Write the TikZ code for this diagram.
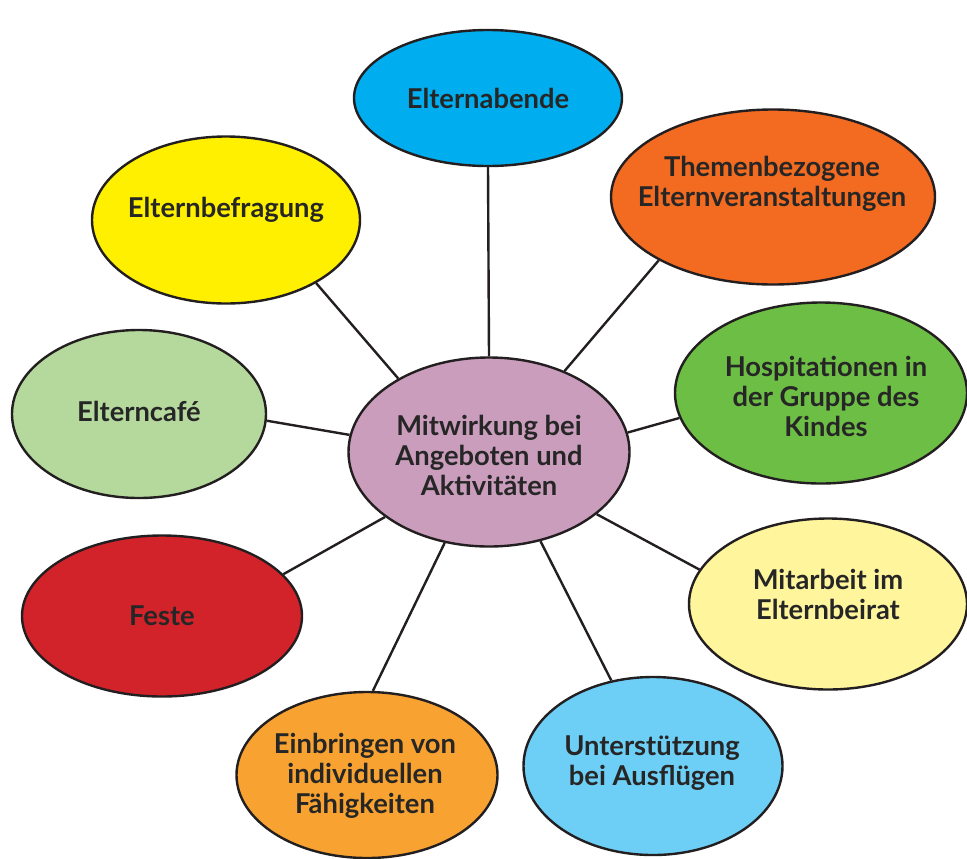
\documentclass[tikz,border=0pt]{standalone}
\usepackage{fontspec}
\setmainfont{Lato}
\usetikzlibrary{shapes.geometric}

\definecolor{abendeC}{HTML}{00AEEF}
\definecolor{themenC}{HTML}{F26B21}
\definecolor{befragC}{HTML}{FFF000}
\definecolor{hospC}{HTML}{6DBE45}
\definecolor{cafeC}{HTML}{B5D99C}
\definecolor{midC}{HTML}{CA9DBD}
\definecolor{festeC}{HTML}{D2232A}
\definecolor{beiratC}{HTML}{FFF59D}
\definecolor{faehigC}{HTML}{F8A331}
\definecolor{ausflugC}{HTML}{6DCFF6}
\definecolor{inkC}{HTML}{231F20}
\definecolor{txtC}{HTML}{262626}

\begin{document}
\begin{tikzpicture}[x=0.75pt, y=-0.75pt,
  bubble/.style={ellipse, draw=inkC, line width=1.8pt, fill=#1, inner sep=0pt},
  label/.style={align=center, text=txtC, font=\fontsize{20.5}{22.5}\selectfont\bfseries},
  link/.style={draw=inkC, line width=1.8pt}]
\useasboundingbox (0,0) rectangle (967,858);

% bubbles
\node[bubble=midC, minimum width=210.75pt, minimum height=141.75pt] (mid) at (489,452) {};
\node[bubble=abendeC, minimum width=201pt, minimum height=102pt] (abende) at (488,98) {};
\node[bubble=themenC, minimum width=243pt, minimum height=131.25pt] (themen) at (773,197) {};
\node[bubble=befragC, minimum width=201pt, minimum height=125.25pt] (befrag) at (226,220) {};
\node[bubble=hospC, minimum width=219pt, minimum height=135.75pt] (hosp) at (821,393) {};
\node[bubble=cafeC, minimum width=190.5pt, minimum height=126pt] (cafe) at (139,414) {};
\node[bubble=festeC, minimum width=210pt, minimum height=120.75pt] (feste) at (162,616) {};
\node[bubble=beiratC, minimum width=208.5pt, minimum height=128.25pt] (beirat) at (828,604) {};
\node[bubble=faehigC, minimum width=195.75pt, minimum height=124.5pt] (faehig) at (367,775) {};
\node[bubble=ausflugC, minimum width=194.25pt, minimum height=133.5pt] (ausflug) at (653,766) {};

% texts
\node[label] (mid-t) at (489,455) {Mitwirkung bei\\Angeboten und\\Aktivitäten};
\node[label] (abende-t) at (488,98) {Elternabende};
\node[label] (themen-t) at (772,184) {Themenbezogene\\Elternveranstaltungen};
\node[label] (befrag-t) at (226,210) {Elternbefragung};
\node[label] (hosp-t) at (826,396) {Hospitationen in\\der Gruppe des\\Kindes};
\node[label] (cafe-t) at (139,411) {Elterncafé};
\node[label] (feste-t) at (162,616) {Feste};
\node[label] (beirat-t) at (828,594) {Mitarbeit im\\Elternbeirat};
\node[label] (faehig-t) at (365,776) {Einbringen von\\individuellen\\Fähigkeiten};
\node[label] (ausflug-t) at (652,763) {Unterstützung\\bei Ausflügen};

% lines
\draw[link] (mid.90) -- (abende.270);
\draw[link] (mid.47) -- (themen.209);
\draw[link] (mid.141) -- (befrag.325);
\draw[link] (mid.173) -- (cafe.357);
\draw[link] (mid.8) -- (hosp.190);
\draw[link] (mid.212) -- (feste.19);
\draw[link] (mid.330) -- (beirat.165);
\draw[link] (mid.244) -- (faehig.86);
\draw[link] (mid.300) -- (ausflug.116);
\end{tikzpicture}
\end{document}
